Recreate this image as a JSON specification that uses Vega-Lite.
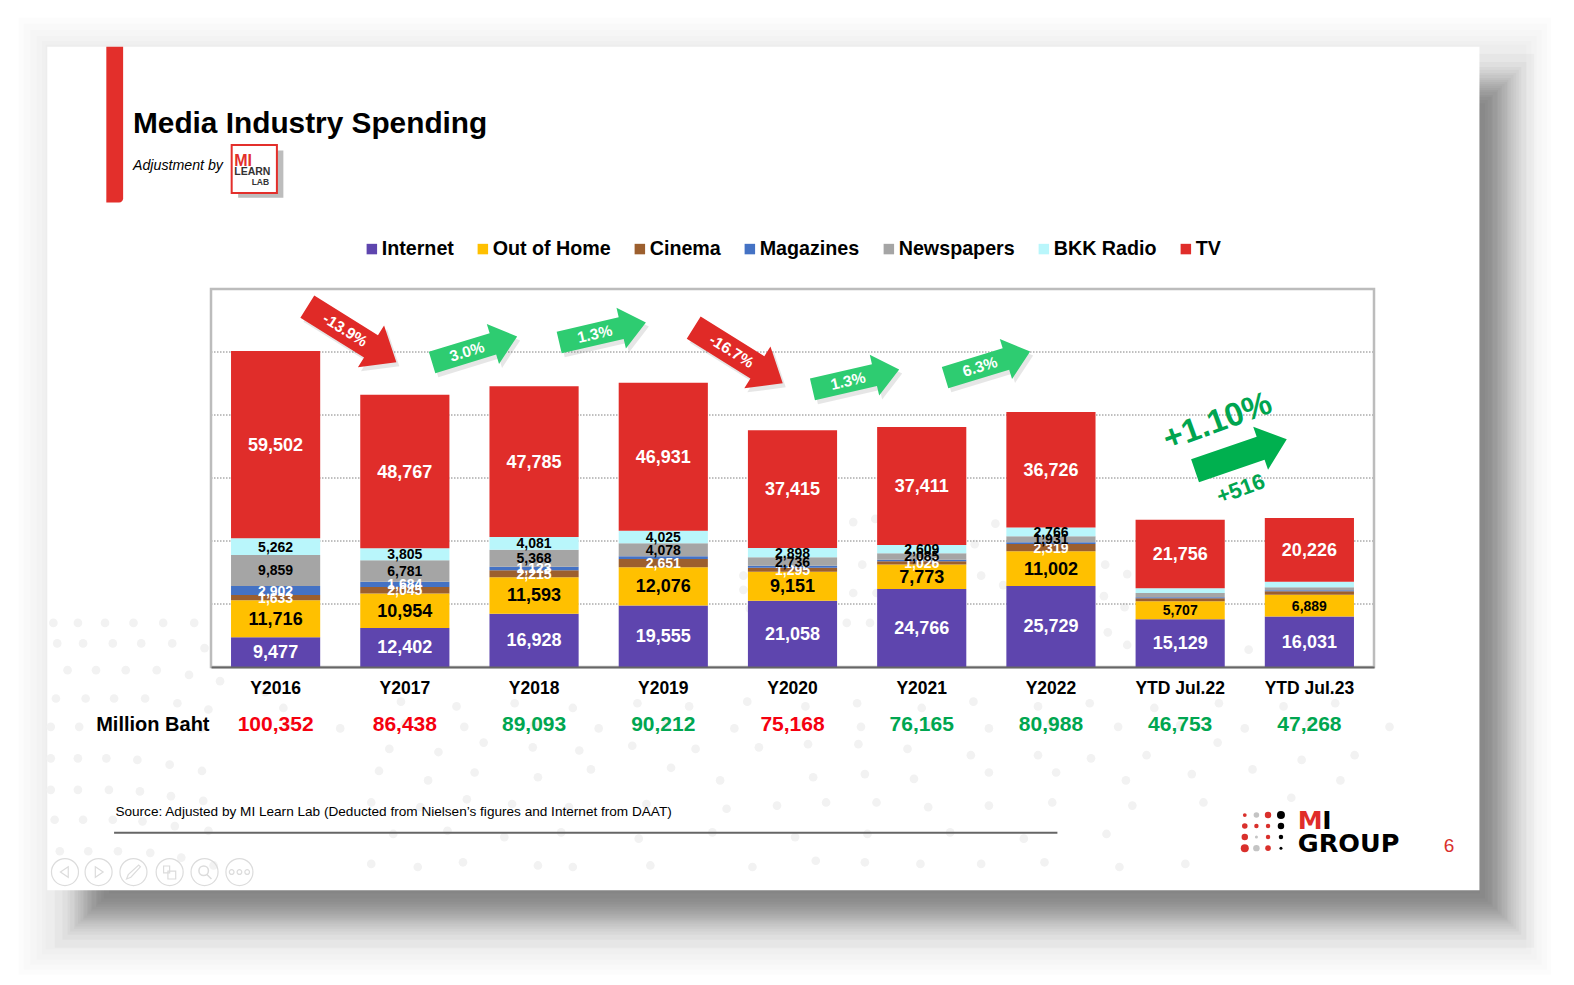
{
  "$schema": "https://vega.github.io/schema/vega-lite/v6.json",
  "width": 1163,
  "height": 378,
  "autosize": {"type": "none"},
  "padding": {"left": 211, "top": 289, "right": 200, "bottom": 318},
  "background": "white",
  "title": {
    "text": "Media Industry Spending",
    "subtitle": "Adjustment by",
    "anchor": "start",
    "frame": "group",
    "dx": -78,
    "dy": 160,
    "font": "Liberation Sans",
    "fontSize": 29.8,
    "fontWeight": "bold",
    "color": "black",
    "subtitleFont": "Liberation Sans",
    "subtitleFontSize": 14.2,
    "subtitleFontStyle": "italic",
    "subtitleColor": "black",
    "subtitlePadding": 20
  },
  "config": {"font": "Liberation Sans", "view": {"stroke": null}},
  "datasets": {
    "spend": [
      {"year": "Y2016", "media": "Internet", "rank": 1, "value": 9477},
      {"year": "Y2016", "media": "Out of Home", "rank": 2, "value": 11716},
      {"year": "Y2016", "media": "Cinema", "rank": 3, "value": 1633},
      {"year": "Y2016", "media": "Magazines", "rank": 4, "value": 2902},
      {"year": "Y2016", "media": "Newspapers", "rank": 5, "value": 9859},
      {"year": "Y2016", "media": "BKK Radio", "rank": 6, "value": 5262},
      {"year": "Y2016", "media": "TV", "rank": 7, "value": 59502},
      {"year": "Y2017", "media": "Internet", "rank": 1, "value": 12402},
      {"year": "Y2017", "media": "Out of Home", "rank": 2, "value": 10954},
      {"year": "Y2017", "media": "Cinema", "rank": 3, "value": 2045},
      {"year": "Y2017", "media": "Magazines", "rank": 4, "value": 1684},
      {"year": "Y2017", "media": "Newspapers", "rank": 5, "value": 6781},
      {"year": "Y2017", "media": "BKK Radio", "rank": 6, "value": 3805},
      {"year": "Y2017", "media": "TV", "rank": 7, "value": 48767},
      {"year": "Y2018", "media": "Internet", "rank": 1, "value": 16928},
      {"year": "Y2018", "media": "Out of Home", "rank": 2, "value": 11593},
      {"year": "Y2018", "media": "Cinema", "rank": 3, "value": 2215},
      {"year": "Y2018", "media": "Magazines", "rank": 4, "value": 1123},
      {"year": "Y2018", "media": "Newspapers", "rank": 5, "value": 5368},
      {"year": "Y2018", "media": "BKK Radio", "rank": 6, "value": 4081},
      {"year": "Y2018", "media": "TV", "rank": 7, "value": 47785},
      {"year": "Y2019", "media": "Internet", "rank": 1, "value": 19555},
      {"year": "Y2019", "media": "Out of Home", "rank": 2, "value": 12076},
      {"year": "Y2019", "media": "Cinema", "rank": 3, "value": 2651},
      {"year": "Y2019", "media": "Magazines", "rank": 4, "value": 896},
      {"year": "Y2019", "media": "Newspapers", "rank": 5, "value": 4078},
      {"year": "Y2019", "media": "BKK Radio", "rank": 6, "value": 4025},
      {"year": "Y2019", "media": "TV", "rank": 7, "value": 46931},
      {"year": "Y2020", "media": "Internet", "rank": 1, "value": 21058},
      {"year": "Y2020", "media": "Out of Home", "rank": 2, "value": 9151},
      {"year": "Y2020", "media": "Cinema", "rank": 3, "value": 1295},
      {"year": "Y2020", "media": "Magazines", "rank": 4, "value": 615},
      {"year": "Y2020", "media": "Newspapers", "rank": 5, "value": 2736},
      {"year": "Y2020", "media": "BKK Radio", "rank": 6, "value": 2898},
      {"year": "Y2020", "media": "TV", "rank": 7, "value": 37415},
      {"year": "Y2021", "media": "Internet", "rank": 1, "value": 24766},
      {"year": "Y2021", "media": "Out of Home", "rank": 2, "value": 7773},
      {"year": "Y2021", "media": "Cinema", "rank": 3, "value": 1026},
      {"year": "Y2021", "media": "Magazines", "rank": 4, "value": 495},
      {"year": "Y2021", "media": "Newspapers", "rank": 5, "value": 2085},
      {"year": "Y2021", "media": "BKK Radio", "rank": 6, "value": 2609},
      {"year": "Y2021", "media": "TV", "rank": 7, "value": 37411},
      {"year": "Y2022", "media": "Internet", "rank": 1, "value": 25729},
      {"year": "Y2022", "media": "Out of Home", "rank": 2, "value": 11002},
      {"year": "Y2022", "media": "Cinema", "rank": 3, "value": 2319},
      {"year": "Y2022", "media": "Magazines", "rank": 4, "value": 515},
      {"year": "Y2022", "media": "Newspapers", "rank": 5, "value": 1931},
      {"year": "Y2022", "media": "BKK Radio", "rank": 6, "value": 2766},
      {"year": "Y2022", "media": "TV", "rank": 7, "value": 36726},
      {"year": "YTD Jul.22", "media": "Internet", "rank": 1, "value": 15129},
      {"year": "YTD Jul.22", "media": "Out of Home", "rank": 2, "value": 5707},
      {"year": "YTD Jul.22", "media": "Cinema", "rank": 3, "value": 1000},
      {"year": "YTD Jul.22", "media": "Magazines", "rank": 4, "value": 280},
      {"year": "YTD Jul.22", "media": "Newspapers", "rank": 5, "value": 1390},
      {"year": "YTD Jul.22", "media": "BKK Radio", "rank": 6, "value": 1491},
      {"year": "YTD Jul.22", "media": "TV", "rank": 7, "value": 21756},
      {"year": "YTD Jul.23", "media": "Internet", "rank": 1, "value": 16031},
      {"year": "YTD Jul.23", "media": "Out of Home", "rank": 2, "value": 6889},
      {"year": "YTD Jul.23", "media": "Cinema", "rank": 3, "value": 1142},
      {"year": "YTD Jul.23", "media": "Magazines", "rank": 4, "value": 300},
      {"year": "YTD Jul.23", "media": "Newspapers", "rank": 5, "value": 980},
      {"year": "YTD Jul.23", "media": "BKK Radio", "rank": 6, "value": 1700},
      {"year": "YTD Jul.23", "media": "TV", "rank": 7, "value": 20226}
    ],
    "totals": [
      {"year": "Y2016", "total": 100352, "trend": "down", "val": -18300},
      {"year": "Y2017", "total": 86438, "trend": "down", "val": -18300},
      {"year": "Y2018", "total": 89093, "trend": "up", "val": -18300},
      {"year": "Y2019", "total": 90212, "trend": "up", "val": -18300},
      {"year": "Y2020", "total": 75168, "trend": "down", "val": -18300},
      {"year": "Y2021", "total": 76165, "trend": "up", "val": -18300},
      {"year": "Y2022", "total": 80988, "trend": "up", "val": -18300},
      {"year": "YTD Jul.22", "total": 46753, "trend": "up", "val": -18300},
      {"year": "YTD Jul.23", "total": 47268, "trend": "up", "val": -18300}
    ],
    "changes": [
      {"label": "-13.9%", "change": -13.9, "slot": 1.09, "val": 105600},
      {"label": "3.0%", "change": 3.0, "slot": 2.04, "val": 100800},
      {"label": "1.3%", "change": 1.3, "slot": 3.03, "val": 106200},
      {"label": "-16.7%", "change": -16.7, "slot": 4.08, "val": 98900},
      {"label": "1.3%", "change": 1.3, "slot": 4.99, "val": 91300},
      {"label": "6.3%", "change": 6.3, "slot": 6.01, "val": 96000}
    ],
    "shadow": [
      {"slot": -1.21, "slot2": 10.24, "val": 194700, "val2": -89100},
      {"slot": -1.15, "slot2": 10.18, "val": 192100, "val2": -86600},
      {"slot": -1.11, "slot2": 10.14, "val": 190500, "val2": -85000},
      {"slot": -1.09, "slot2": 10.12, "val": 189600, "val2": -84000},
      {"slot": -1.06, "slot2": 10.1, "val": 188600, "val2": -83100},
      {"slot": -1.05, "slot2": 10.08, "val": 188000, "val2": -82400},
      {"slot": -1.03, "slot2": 10.06, "val": 187000, "val2": -81500},
      {"slot": -1.01, "slot2": 10.04, "val": 186400, "val2": -80800},
      {"slot": -0.99, "slot2": 10.03, "val": 185700, "val2": -80200},
      {"slot": -0.98, "slot2": 10.01, "val": 185100, "val2": -79600},
      {"slot": -0.96, "slot2": 9.99, "val": 184500, "val2": -78900},
      {"slot": -0.95, "slot2": 9.98, "val": 183800, "val2": -78300},
      {"slot": -0.93, "slot2": 9.96, "val": 183200, "val2": -77600},
      {"slot": -0.92, "slot2": 9.95, "val": 182600, "val2": -77000},
      {"slot": -0.89, "slot2": 9.92, "val": 181600, "val2": -76100},
      {"slot": -0.88, "slot2": 9.91, "val": 181000, "val2": -75400},
      {"slot": -0.85, "slot2": 9.88, "val": 180000, "val2": -74500},
      {"slot": -0.83, "slot2": 9.86, "val": 179000, "val2": -73500},
      {"slot": -0.79, "slot2": 9.82, "val": 177400, "val2": -71900},
      {"slot": -0.73, "slot2": 9.76, "val": 174900, "val2": -70900}
    ],
    "halo": [
      {"slot": -1.49, "slot2": 10.37, "val": 206200, "val2": -97700},
      {"slot": -1.45, "slot2": 10.34, "val": 204300, "val2": -96100},
      {"slot": -1.4, "slot2": 10.3, "val": 202300, "val2": -94500},
      {"slot": -1.35, "slot2": 10.26, "val": 200400, "val2": -92900},
      {"slot": -1.31, "slot2": 10.22, "val": 198800, "val2": -91300},
      {"slot": -1.28, "slot2": 10.18, "val": 197600, "val2": -89700}
    ],
    "dots": [
      {"slot": -1.22, "val": 14000}, {"slot": -1.03, "val": 14000}, {"slot": -0.82, "val": 14000}, {"slot": -0.6, "val": 14000}, {"slot": -0.37, "val": 14000}, {"slot": -0.13, "val": 14000},
      {"slot": -1.19, "val": 7500}, {"slot": -0.99, "val": 7500}, {"slot": -0.76, "val": 7500}, {"slot": -0.54, "val": 7500}, {"slot": -0.3, "val": 7500}, {"slot": -0.05, "val": 6000},
      {"slot": -1.11, "val": -1000}, {"slot": -0.89, "val": -1000}, {"slot": -0.66, "val": -1000}, {"slot": -0.42, "val": -1000}, {"slot": -0.17, "val": -2500}, {"slot": 0.07, "val": -4500},
      {"slot": -1.2, "val": -10000}, {"slot": -0.97, "val": -10000}, {"slot": -0.75, "val": -10000}, {"slot": -0.51, "val": -10000}, {"slot": -0.26, "val": -11500}, {"slot": -0.02, "val": -13500},
      {"slot": -1.24, "val": -19000}, {"slot": -1.02, "val": -19000}, {"slot": -0.08, "val": -19500},
      {"slot": -1.24, "val": -29000}, {"slot": -1.03, "val": -29000}, {"slot": -0.81, "val": -29000}, {"slot": -0.57, "val": -29500}, {"slot": -0.32, "val": -31000}, {"slot": -0.07, "val": -33000},
      {"slot": -1.24, "val": -39000}, {"slot": -1.03, "val": -39000}, {"slot": -0.79, "val": -39000}, {"slot": -0.55, "val": -39500}, {"slot": -0.31, "val": -41000}, {"slot": -0.06, "val": -42500},
      {"slot": -1.21, "val": -48500}, {"slot": -0.99, "val": -48500}, {"slot": -0.76, "val": -48500}, {"slot": -0.53, "val": -49000}, {"slot": -0.28, "val": -50500}, {"slot": -0.02, "val": -52000},
      {"slot": -1.17, "val": -58500}, {"slot": -0.95, "val": -58500}, {"slot": -0.72, "val": -58500}, {"slot": -0.47, "val": -59000}, {"slot": -0.23, "val": -60500}, {"slot": 0.02, "val": -63000},
      {"slot": 0.42, "val": -8000}, {"slot": 0.56, "val": -13000}, {"slot": 1.47, "val": -11000}, {"slot": 1.9, "val": -12500}, {"slot": 2.35, "val": -11500}, {"slot": 2.8, "val": -13000}, {"slot": 3.3, "val": -11500}, {"slot": 3.7, "val": -12500}, {"slot": 4.15, "val": -11000}, {"slot": 4.6, "val": -12500}, {"slot": 5.0, "val": -11500}, {"slot": 5.5, "val": -13000}, {"slot": 5.9, "val": -11000}, {"slot": 6.4, "val": -12500}, {"slot": 6.8, "val": -11500}, {"slot": 7.3, "val": -13000}, {"slot": 7.8, "val": -11500}, {"slot": 8.3, "val": -12500}, {"slot": 8.7, "val": -11500},
      {"slot": 0.6, "val": -18500}, {"slot": 1.0, "val": -19500}, {"slot": 1.5, "val": -18000}, {"slot": 1.96, "val": -19000}, {"slot": 2.5, "val": -18500}, {"slot": 3.0, "val": -19500}, {"slot": 3.52, "val": -18000}, {"slot": 4.05, "val": -19500}, {"slot": 4.55, "val": -18000}, {"slot": 5.03, "val": -19000}, {"slot": 5.55, "val": -18500}, {"slot": 6.02, "val": -19500}, {"slot": 6.5, "val": -18000}, {"slot": 7.02, "val": -19000}, {"slot": 7.5, "val": -18500}, {"slot": 8.0, "val": -19500}, {"slot": 8.5, "val": -18000}, {"slot": 9.12, "val": -19000},
      {"slot": 1.38, "val": -26000}, {"slot": 1.76, "val": -27000}, {"slot": 2.11, "val": -24000}, {"slot": 2.49, "val": -25500}, {"slot": 2.85, "val": -26500}, {"slot": 3.26, "val": -25000}, {"slot": 3.75, "val": -26000}, {"slot": 4.24, "val": -25500}, {"slot": 4.62, "val": -24500}, {"slot": 5.01, "val": -24500}, {"slot": 5.39, "val": -26000}, {"slot": 5.88, "val": -28000}, {"slot": 6.4, "val": -28000}, {"slot": 6.81, "val": -29000}, {"slot": 7.24, "val": -28000}, {"slot": 7.79, "val": -24000}, {"slot": 8.44, "val": -29500}, {"slot": 8.85, "val": -28000},
      {"slot": 1.3, "val": -33000}, {"slot": 1.68, "val": -36000}, {"slot": 2.04, "val": -33500}, {"slot": 2.53, "val": -35000}, {"slot": 2.94, "val": -32500}, {"slot": 3.56, "val": -32000}, {"slot": 3.94, "val": -36000}, {"slot": 4.66, "val": -35000}, {"slot": 5.06, "val": -34000}, {"slot": 5.44, "val": -35500}, {"slot": 6.02, "val": -33500}, {"slot": 6.54, "val": -33500}, {"slot": 7.08, "val": -36000}, {"slot": 7.59, "val": -34000}, {"slot": 8.06, "val": -32500}, {"slot": 8.74, "val": -36000},
      {"slot": 1.24, "val": -43000}, {"slot": 1.62, "val": -44500}, {"slot": 1.98, "val": -42000}, {"slot": 2.33, "val": -43500}, {"slot": 2.77, "val": -44500}, {"slot": 3.37, "val": -43500}, {"slot": 3.99, "val": -45000}, {"slot": 4.38, "val": -44000}, {"slot": 4.76, "val": -43000}, {"slot": 5.15, "val": -43000}, {"slot": 5.55, "val": -44500}, {"slot": 6.02, "val": -44000}, {"slot": 6.51, "val": -43000}, {"slot": 7.13, "val": -44000}, {"slot": 7.68, "val": -43000}, {"slot": 8.36, "val": -41500},
      {"slot": 1.41, "val": -53000}, {"slot": 1.83, "val": -52000}, {"slot": 2.27, "val": -54000}, {"slot": 2.71, "val": -52500}, {"slot": 3.31, "val": -54500}, {"slot": 3.88, "val": -52500}, {"slot": 4.52, "val": -54000}, {"slot": 5.08, "val": -53000}, {"slot": 5.72, "val": -52500}, {"slot": 6.29, "val": -54500}, {"slot": 6.93, "val": -53000},
      {"slot": 1.24, "val": -62500}, {"slot": 1.6, "val": -63500}, {"slot": 1.95, "val": -62000}, {"slot": 2.53, "val": -63000}, {"slot": 2.8, "val": -63500}, {"slot": 3.4, "val": -63000}, {"slot": 4.19, "val": -63500}, {"slot": 4.68, "val": -61500}, {"slot": 5.06, "val": -62000}, {"slot": 5.49, "val": -62500}, {"slot": 5.96, "val": -62500}, {"slot": 6.45, "val": -62000}, {"slot": 7.03, "val": -63500}, {"slot": 7.54, "val": -62500},
      {"slot": 4.12, "val": 29000}, {"slot": 4.12, "val": 24500}, {"slot": 4.17, "val": 18500}, {"slot": 4.92, "val": 14000}, {"slot": 5.1, "val": 14000}, {"slot": 4.97, "val": 46000}, {"slot": 5.14, "val": 47000}, {"slot": 5.04, "val": 32500}, {"slot": 4.97, "val": 23500}, {"slot": 5.15, "val": 23500}, {"slot": 5.91, "val": 39000}, {"slot": 5.96, "val": 29000}, {"slot": 6.13, "val": 26000}, {"slot": 6.07, "val": 45500}, {"slot": 6.92, "val": 32500}, {"slot": 7.09, "val": 29500}, {"slot": 6.91, "val": 22500}, {"slot": 7.07, "val": 19000}, {"slot": 6.94, "val": 11000}, {"slot": 7.09, "val": 7000}, {"slot": 8.03, "val": 5500}
    ],
    "logoDots": [
      {"slot": 8.0, "val": -47000, "tone": "red", "d": 3.5}, {"slot": 8.09, "val": -47000, "tone": "gray", "d": 5}, {"slot": 8.18, "val": -47000, "tone": "red", "d": 6}, {"slot": 8.28, "val": -47000, "tone": "black", "d": 8},
      {"slot": 8.0, "val": -50500, "tone": "red", "d": 5}, {"slot": 8.09, "val": -50500, "tone": "red", "d": 4}, {"slot": 8.18, "val": -50500, "tone": "red", "d": 4}, {"slot": 8.28, "val": -50500, "tone": "black", "d": 6},
      {"slot": 8.0, "val": -54000, "tone": "red", "d": 6}, {"slot": 8.09, "val": -54000, "tone": "gray", "d": 3}, {"slot": 8.18, "val": -54000, "tone": "red", "d": 4}, {"slot": 8.28, "val": -54000, "tone": "black", "d": 4},
      {"slot": 8.0, "val": -57500, "tone": "red", "d": 8}, {"slot": 8.09, "val": -57500, "tone": "gray", "d": 6}, {"slot": 8.18, "val": -57500, "tone": "red", "d": 5}, {"slot": 8.28, "val": -57500, "tone": "black", "d": 3}
    ]
  },
  "encoding": {
    "x": {"field": "slot", "type": "quantitative", "scale": {"domain": [0, 9], "nice": false, "zero": false}, "axis": null},
    "y": {"field": "val", "type": "quantitative", "scale": {"domain": [0, 120000], "nice": false, "zero": false}, "axis": null}
  },
  "layer": [
    {"data": {"name": "halo"}, "mark": {"type": "rect", "color": "black", "opacity": 0.012}, "encoding": {"x2": {"field": "slot2"}, "y2": {"field": "val2"}}},
    {"data": {"name": "shadow"}, "mark": {"type": "rect", "color": "black", "opacity": 0.028}, "encoding": {"x2": {"field": "slot2"}, "y2": {"field": "val2"}}},
    {"data": {"values": [{"slot": -1.267, "slot2": 9.816, "val": 196900, "val2": -70850}]}, "mark": {"type": "rect", "color": "white"}, "encoding": {"x2": {"field": "slot2"}, "y2": {"field": "val2"}}},
    {"data": {"name": "dots"}, "mark": {"type": "circle", "color": "#f2f2f2", "size": 75, "opacity": 1}},
    {"data": {"values": [{"slot": -0.81, "slot2": -0.68, "val": 196900, "val2": 147450}]}, "mark": {"type": "rect", "color": "#e32f2b", "cornerRadiusBottomRight": 4}, "encoding": {"x2": {"field": "slot2"}, "y2": {"field": "val2"}}},
    {"data": {"values": [{"slot": -1.13, "val": -65100}, {"slot": -0.87, "val": -65100}, {"slot": -0.6, "val": -65100}, {"slot": -0.32, "val": -65100}, {"slot": -0.05, "val": -65100}, {"slot": 0.22, "val": -65100}]}, "mark": {"type": "point", "shape": "circle", "size": 730, "stroke": "#dcdcdc", "strokeWidth": 1.2, "fill": "transparent", "opacity": 1}},
    {"data": {"values": [{"slot": -1.135, "val": -65100}]}, "mark": {"type": "point", "shape": "M0.6,-0.8L-0.6,0L0.6,0.8Z", "size": 170, "stroke": "#dcdcdc", "strokeWidth": 1.2, "fill": "transparent", "opacity": 1}},
    {"data": {"values": [{"slot": -0.865, "val": -65100}]}, "mark": {"type": "point", "shape": "M-0.6,-0.8L0.6,0L-0.6,0.8Z", "size": 170, "stroke": "#dcdcdc", "strokeWidth": 1.2, "fill": "transparent", "opacity": 1}},
    {"data": {"values": [{"slot": -0.6, "val": -65100}]}, "mark": {"type": "point", "shape": "M-0.8,0.8L-0.6,0.3L0.6,-0.8L0.8,-0.6L-0.3,0.6Z", "size": 300, "stroke": "#dcdcdc", "strokeWidth": 1.2, "fill": "transparent", "opacity": 1}},
    {"data": {"values": [{"slot": -0.32, "val": -65100}]}, "mark": {"type": "point", "shape": "M-0.7,-0.7H0V0.1H-0.7ZM-0.2,-0.1H0.7V0.8H-0.2Z", "size": 300, "stroke": "#dcdcdc", "strokeWidth": 1.2, "fill": "transparent", "opacity": 1}},
    {"data": {"values": [{"slot": -0.05, "val": -65100}]}, "mark": {"type": "point", "shape": "M-0.1,-0.7A0.55,0.55 0 1 1 -0.1,0.4A0.55,0.55 0 1 1 -0.1,-0.7M0.3,0.3L0.8,0.8", "size": 300, "stroke": "#dcdcdc", "strokeWidth": 1.5, "fill": "transparent", "opacity": 1}},
    {"data": {"values": [{"slot": 0.16, "val": -65100}, {"slot": 0.22, "val": -65100}, {"slot": 0.28, "val": -65100}]}, "mark": {"type": "point", "shape": "circle", "size": 22, "stroke": "#dcdcdc", "strokeWidth": 1.2, "fill": "transparent", "opacity": 1}},
    {"data": {"values": [{"slot": 0.21, "slot2": 0.56, "val": 164000, "val2": 149000}]}, "mark": {"type": "rect", "color": "#bdbdbd"}, "encoding": {"x2": {"field": "slot2"}, "y2": {"field": "val2"}}},
    {"data": {"values": [{"slot": 0.16, "slot2": 0.51, "val": 165700, "val2": 150500}]}, "mark": {"type": "rect", "fill": "white", "stroke": "#e32f2b", "strokeWidth": 2}, "encoding": {"x2": {"field": "slot2"}, "y2": {"field": "val2"}}},
    {"data": {"values": [{"slot": 0.18, "val": 160500, "t": "MI"}]}, "mark": {"type": "text", "align": "left", "fontWeight": "bold", "fontSize": 16, "color": "#e32f2b"}, "encoding": {"text": {"field": "t"}}},
    {"data": {"values": [{"slot": 0.18, "val": 157000, "t": "LEARN"}]}, "mark": {"type": "text", "align": "left", "fontWeight": "bold", "fontSize": 10.5, "color": "#333333"}, "encoding": {"text": {"field": "t"}}},
    {"data": {"values": [{"slot": 0.45, "val": 154000, "t": "LAB"}]}, "mark": {"type": "text", "align": "right", "fontWeight": "bold", "fontSize": 8.5, "color": "#333333"}, "encoding": {"text": {"field": "t"}}},
    {"data": {"values": [{"slot": 0, "slot2": 9, "val": 20000}, {"slot": 0, "slot2": 9, "val": 40000}, {"slot": 0, "slot2": 9, "val": 60000}, {"slot": 0, "slot2": 9, "val": 80000}, {"slot": 0, "slot2": 9, "val": 100000}]}, "mark": {"type": "rule", "color": "#808080", "strokeWidth": 1, "strokeDash": [1.5, 1.5]}, "encoding": {"x2": {"field": "slot2"}}},
    {"data": {"values": [{"slot": 0, "slot2": 9, "val": 0, "val2": 120000}]}, "mark": {"type": "rect", "fill": "transparent", "stroke": "#bcbcbc", "strokeWidth": 2.5}, "encoding": {"x2": {"field": "slot2"}, "y2": {"field": "val2"}}},
    {
      "data": {"name": "spend"},
      "mark": {"type": "bar"},
      "encoding": {
        "x": {"field": "year", "type": "nominal", "sort": null, "title": null, "scale": {"domain": ["Y2016", "Y2017", "Y2018", "Y2019", "Y2020", "Y2021", "Y2022", "YTD Jul.22", "YTD Jul.23"], "paddingInner": 0.31, "paddingOuter": 0.155},
          "axis": {"zindex": 1, "labelAngle": 0, "labelFontSize": 17.5, "labelFontWeight": "bold", "labelColor": "black", "labelPadding": 12, "ticks": false, "domainColor": "#666666", "domainWidth": 2, "grid": false}},
        "y": {"field": "value", "type": "quantitative", "stack": "zero", "scale": {"domain": [0, 120000], "nice": false, "zero": false}, "axis": null},
        "order": {"field": "rank"},
        "color": {
          "field": "media", "type": "nominal",
          "scale": {"domain": ["Internet", "Out of Home", "Cinema", "Magazines", "Newspapers", "BKK Radio", "TV"], "range": ["#5e45ae", "#ffc000", "#9c5f2e", "#4472c4", "#a5a5a5", "#b9f6fb", "#e02d2a"]},
          "legend": {"title": null, "orient": "none", "legendX": 151, "legendY": -50, "direction": "horizontal", "symbolType": "square", "symbolSize": 110, "symbolStrokeWidth": 0, "labelFontSize": 19.7, "labelFontWeight": "bold", "labelColor": "black", "labelOffset": 0, "columnPadding": 19}
        }
      }
    },
    {
      "data": {"name": "spend"},
      "mark": {"type": "text", "fontWeight": "bold", "baseline": "middle", "dy": 1},
      "encoding": {
        "x": {"field": "year", "type": "nominal", "sort": null, "scale": {"domain": ["Y2016", "Y2017", "Y2018", "Y2019", "Y2020", "Y2021", "Y2022", "YTD Jul.22", "YTD Jul.23"], "paddingInner": 0.31, "paddingOuter": 0.155}, "axis": null},
        "y": {"field": "value", "type": "quantitative", "stack": "zero", "bandPosition": 0.5, "scale": {"domain": [0, 120000], "nice": false, "zero": false}, "axis": null},
        "order": {"field": "rank"},
        "detail": {"field": "media"},
        "text": {"condition": {"test": "datum.value >= 1000 && (datum.value >= 5000 || indexof(datum.year, 'YTD') < 0)", "field": "value", "type": "quantitative", "format": ","}, "value": ""},
        "size": {"condition": {"test": "datum.value >= 7000 && indexof(['Internet', 'Out of Home', 'TV'], datum.media) >= 0", "value": 18}, "value": 14},
        "color": {"condition": {"test": "indexof(['Internet', 'Cinema', 'Magazines', 'TV'], datum.media) >= 0", "value": "white"}, "value": "black"}
      }
    },
    {
      "data": {"name": "totals"},
      "mark": {"type": "text", "fontWeight": "bold", "fontSize": 21},
      "encoding": {
        "x": {"field": "year", "type": "nominal", "sort": null, "scale": {"domain": ["Y2016", "Y2017", "Y2018", "Y2019", "Y2020", "Y2021", "Y2022", "YTD Jul.22", "YTD Jul.23"], "paddingInner": 0.31, "paddingOuter": 0.155}, "axis": null},
        "text": {"field": "total", "type": "quantitative", "format": ","},
        "color": {"condition": {"test": "datum.trend == 'up'", "value": "#00a650"}, "value": "#f5000f"}
      }
    },
    {"data": {"values": [{"slot": -0.45, "val": -18300, "t": "Million Baht"}]}, "mark": {"type": "text", "fontWeight": "bold", "fontSize": 20, "color": "black"}, "encoding": {"text": {"field": "t"}}},
    {
      "data": {"name": "changes"},
      "mark": {"type": "point", "shape": "M-1,-0.25L0.43,-0.25L0.43,-0.47L1,0L0.43,0.47L0.43,0.25L-1,0.25Z", "filled": true, "color": "#555555", "opacity": 0.15, "xOffset": 3, "yOffset": 4},
      "encoding": {
        "angle": {"condition": [{"test": "datum.change < 0", "value": 32}, {"test": "datum.change < 2", "value": -13}], "value": -17},
        "size": {"condition": {"test": "datum.change < 0", "value": 11025}, "value": 7921}
      }
    },
    {
      "data": {"name": "changes"},
      "mark": {"type": "point", "shape": "M-1,-0.25L0.43,-0.25L0.43,-0.47L1,0L0.43,0.47L0.43,0.25L-1,0.25Z", "filled": true, "opacity": 1},
      "encoding": {
        "angle": {"condition": [{"test": "datum.change < 0", "value": 32}, {"test": "datum.change < 2", "value": -13}], "value": -17},
        "size": {"condition": {"test": "datum.change < 0", "value": 11025}, "value": 7921},
        "color": {"condition": {"test": "datum.change < 0", "value": "#e02a27"}, "value": "#2ecc71"}
      }
    },
    {
      "data": {"name": "changes"},
      "mark": {"type": "text", "fontWeight": "bold", "fontSize": 15.5, "color": "white", "dx": -8},
      "encoding": {
        "angle": {"condition": [{"test": "datum.change < 0", "value": 32}, {"test": "datum.change < 2", "value": -13}], "value": -17},
        "text": {"field": "label"}
      }
    },
    {
      "data": {"values": [{"slot": 7.97, "val": 67300}]},
      "mark": {"type": "point", "shape": "M-1,-0.25L0.43,-0.25L0.43,-0.47L1,0L0.43,0.47L0.43,0.25L-1,0.25Z", "filled": true, "color": "#00b04f", "size": 9409, "angle": -19, "opacity": 1}
    },
    {"data": {"values": [{"slot": 7.79, "val": 77900, "t": "+1.10%"}]}, "mark": {"type": "text", "fontWeight": "bold", "fontSize": 33, "color": "#00a550", "angle": -20}, "encoding": {"text": {"field": "t"}}},
    {"data": {"values": [{"slot": 7.97, "val": 56500, "t": "+516"}]}, "mark": {"type": "text", "fontWeight": "bold", "fontSize": 22, "color": "#00a550", "angle": -20}, "encoding": {"text": {"field": "t"}}},
    {"data": {"values": [{"slot": -0.74, "val": -46000, "t": "Source: Adjusted by MI Learn Lab (Deducted  from Nielsen’s figures and Internet from DAAT)"}]}, "mark": {"type": "text", "align": "left", "fontSize": 13.6, "color": "black"}, "encoding": {"text": {"field": "t"}}},
    {"data": {"values": [{"slot": -0.75, "slot2": 6.55, "val": -52650}]}, "mark": {"type": "rule", "color": "#666666", "strokeWidth": 2}, "encoding": {"x2": {"field": "slot2"}}},
    {"data": {"values": [{"slot": 9.58, "val": -56800, "t": "6"}]}, "mark": {"type": "text", "fontSize": 19, "color": "#d9302c"}, "encoding": {"text": {"field": "t"}}},
    {
      "data": {"name": "logoDots"},
      "mark": {"type": "circle", "opacity": 1},
      "encoding": {
        "size": {"field": "d", "type": "quantitative", "scale": {"domain": [3, 8], "range": [9, 64]}, "legend": null},
        "color": {"condition": [{"test": "datum.tone == 'red'", "value": "#d9302c"}, {"test": "datum.tone == 'gray'", "value": "#c4c4c4"}], "value": "black"}
      }
    },
    {"data": {"values": [{"slot": 8.41, "val": -48800, "t": "M"}]}, "mark": {"type": "text", "align": "left", "font": "DejaVu Sans", "fontWeight": "bold", "fontSize": 25, "color": "#e02d2a"}, "encoding": {"text": {"field": "t"}}},
    {"data": {"values": [{"slot": 8.6, "val": -48800, "t": "I"}]}, "mark": {"type": "text", "align": "left", "font": "DejaVu Sans", "fontWeight": "bold", "fontSize": 25, "color": "black"}, "encoding": {"text": {"field": "t"}}},
    {"data": {"values": [{"slot": 8.41, "val": -56200, "t": "GROUP"}]}, "mark": {"type": "text", "align": "left", "font": "DejaVu Sans", "fontWeight": "bold", "fontSize": 25.5, "color": "black"}, "encoding": {"text": {"field": "t"}}}
  ],
  "resolve": {"scale": {"x": "independent", "size": "independent", "color": "independent"}}
}
